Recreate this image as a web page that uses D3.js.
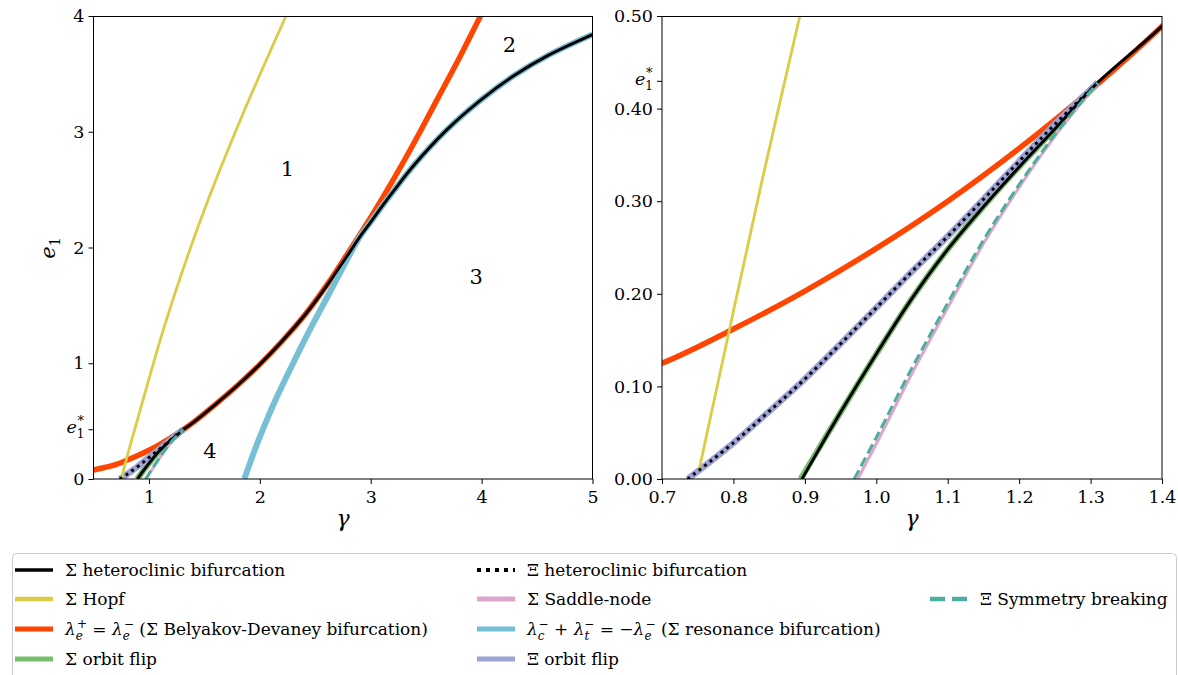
<!DOCTYPE html>
<html>
<head>
<meta charset="utf-8">
<script src="https://cdn.jsdelivr.net/npm/d3@7"></script>
<style>
  body { margin: 0; background: #fff; }
  svg { display: block; }
  text { font-family: "DejaVu Serif", serif; fill: #000; }
</style>
</head>
<body>
<div id="chart-area"></div>
<script>
// values: [gamma, e1]
var e1Star = 0.43;

var hopf = [[0.752,0.01],[0.84,0.322],[0.893,0.5],[0.99,0.83],[1.13,1.29],[1.28,1.735],[1.533,2.41],
            [1.85,3.16],[2.236,4.0]];

var belyakov = [[0.5,0.078],[0.6,0.099],[0.7,0.125],[0.8,0.162],[0.9,0.203],[1.0,0.249],[1.1,0.3],
                [1.2,0.357],[1.3,0.42],[1.4,0.489],[1.6,0.645],[1.8,0.81],
                [2.0,0.99],[2.2,1.19],[2.4,1.41],[2.6,1.67],[2.8,1.96],[3.0,2.26],[3.2,2.58],
                [3.4,2.92],[3.6,3.28],[3.8,3.64],[4.0,4.02]];

var sigmaHet = [[0.896,0],[0.95,0.072],[1.0,0.135],[1.05,0.195],[1.1,0.248],[1.15,0.294],[1.2,0.337],
                [1.25,0.378],[1.31,0.428],[1.4,0.489],[1.6,0.645],[1.8,0.81],[2.0,0.99],[2.2,1.19],
                [2.4,1.41],[2.6,1.665],[2.8,1.945],[2.9,2.09],[3.0,2.22],[3.09,2.34],[3.2,2.48],
                [3.38,2.7],[3.69,3.02],[4.0,3.28],[4.3,3.49],[4.6,3.66],[5.0,3.84]];

var resonance = [[1.86,0],[1.95,0.24],[2.05,0.48],[2.14,0.68],[2.3,1.0],[2.43,1.25],[2.635,1.62],
                 [2.8,1.92],[2.9,2.09],[3.0,2.22],[3.09,2.34],[3.2,2.48],[3.38,2.7],[3.69,3.02],
                 [4.0,3.28],[4.3,3.49],[4.6,3.66],[5.0,3.84]];

var sigmaFlip = [[0.894,0],[0.95,0.072],[1.0,0.135],[1.05,0.195],[1.1,0.248],[1.15,0.294],[1.2,0.337],
                 [1.25,0.378],[1.31,0.428]];

var xiHet = [[0.736,0],[0.8,0.039],[0.85,0.073],[0.9,0.108],[0.95,0.146],[1.0,0.185],[1.05,0.224],
             [1.1,0.262],[1.15,0.302],[1.2,0.343],[1.25,0.383],[1.31,0.428]];

var saddleNode = [[0.974,0],[1.0,0.038],[1.05,0.114],[1.1,0.185],[1.15,0.254],[1.2,0.315],[1.25,0.37],[1.31,0.428]];

var symBreak = [[0.969,0],[1.0,0.045],[1.05,0.12],[1.1,0.19],[1.15,0.258],[1.2,0.318],[1.25,0.372],[1.31,0.428]];

var xTicksL = [1, 2, 3, 4, 5];
var yTicksL = [0, e1Star, 1, 2, 3, 4];
var xTicksR = [0.7, 0.8, 0.9, 1.0, 1.1, 1.2, 1.3, 1.4];
var yTicksR = [0, 0.1, 0.2, 0.3, 0.4, e1Star, 0.5];

var regionLabels = [["1", 2.25, 2.68], ["2", 4.25, 3.75], ["3", 3.95, 1.75], ["4", 1.55, 0.25]];

var width = 1178, height = 675;
var svg = d3.select("#chart-area").append("svg").attr("width", width).attr("height", height);

var panels = [
    {id: "L", left: 93.5, right: 592.5, xDom: [0.5, 5], yDom: [0, 4], xTicks: xTicksL, yTicks: yTicksL,
     xFmt: d3.format("d"), yFmt: d3.format("d")},
    {id: "R", left: 662, right: 1162, xDom: [0.7, 1.4], yDom: [0, 0.5], xTicks: xTicksR, yTicks: yTicksR,
     xFmt: d3.format(".1f"), yFmt: d3.format(".2f")}
];
var plotTop = 16, plotBottom = 479;

// series in drawing order
var series = [
    {data: belyakov,   color: "#ff4500", w: 5.5},
    {data: resonance,  color: "#76c0d6", w: 6},
    {data: sigmaFlip,  color: "#77c06b", w: 6},
    {data: xiHet,      color: "#9ca2d6", w: 6.5},
    {data: saddleNode, color: "#dea6cc", w: 3},
    {data: hopf,       color: "#dccb45", w: 2.8},
    {data: sigmaHet,   color: "#000000", w: 3},
    {data: xiHet,      color: "#000000", w: 3, dash: "3,4"},
    {data: symBreak,   color: "#4bae9f", w: 3, dash: "10,4.5"}
];

function mathText(sel, parts) {
    var shift = 0;
    parts.forEach(function(p) {
        var s = p.s || 0;
        var ts = sel.append("tspan").text(p.t);
        if (s !== shift) ts.attr("dy", s - shift);
        shift = s;
        if (p.i) ts.attr("font-style", "italic");
        if (p.fs) ts.attr("font-size", p.fs);
        if (p.dx) ts.attr("dx", p.dx);
    });
}

var e1StarParts = [{t: "e", i: true}, {t: "1", s: 5, fs: 12}, {t: "*", s: -8, fs: 13, dx: -7}];

panels.forEach(function(p) {
    var x = d3.scaleLinear().domain(p.xDom).range([p.left, p.right]);
    var y = d3.scaleLinear().domain(p.yDom).range([plotBottom, plotTop]);

    var clipId = "clip" + p.id;
    svg.append("clipPath").attr("id", clipId).append("rect")
        .attr("x", p.left).attr("y", plotTop).attr("width", p.right - p.left).attr("height", plotBottom - plotTop);

    var g = svg.append("g").attr("clip-path", "url(#" + clipId + ")");
    var line = d3.line().x(function(d) { return x(d[0]); }).y(function(d) { return y(d[1]); })
                 .curve(d3.curveCatmullRom.alpha(0.5));

    series.forEach(function(s) {
        g.append("path").attr("d", line(s.data)).attr("fill", "none")
            .attr("stroke", s.color).attr("stroke-width", s.w)
            .attr("stroke-dasharray", s.dash || null);
    });

    var xAxis = d3.axisBottom(x).tickValues(p.xTicks).tickFormat(p.xFmt).tickSize(5).tickPadding(7);
    var yAxis = d3.axisLeft(y).tickValues(p.yTicks).tickFormat(p.yFmt).tickSize(5).tickPadding(4);

    var xg = svg.append("g").attr("transform", "translate(0," + plotBottom + ")").call(xAxis);
    var yg = svg.append("g").attr("transform", "translate(" + p.left + ",0)").call(yAxis);
    [xg, yg].forEach(function(a) {
        a.select(".domain").remove();
        a.selectAll("text").attr("font-family", "DejaVu Serif").attr("font-size", 17.5);
        a.selectAll("line").attr("stroke", "#000");
    });
    yg.selectAll(".tick text").each(function(d) {
        if (d === e1Star) {
            var t = d3.select(this).text("");
            t.attr("dy", "0.2em");
            mathText(t, e1StarParts);
        }
    });

    // frame
    svg.append("rect").attr("x", p.left).attr("y", plotTop + 0.5)
        .attr("width", p.right - p.left).attr("height", plotBottom - plotTop - 0.5)
        .attr("fill", "none").attr("stroke", "#000").attr("stroke-width", 1);

    svg.append("text").attr("x", (p.left + p.right) / 2).attr("y", 526)
        .attr("text-anchor", "middle").attr("font-size", 22).attr("font-style", "italic").text("γ");

    if (p.id === "L") {
        var yl = svg.append("text").attr("transform", "translate(55,248) rotate(-90)")
            .attr("text-anchor", "middle").attr("font-size", 21);
        mathText(yl, [{t: "e", i: true}, {t: "1", s: 5, fs: 14}]);

        svg.selectAll(".region").data(regionLabels).enter().append("text")
            .attr("class", "region")
            .attr("x", function(d) { return x(d[1]); })
            .attr("y", function(d) { return y(d[2]); })
            .attr("dy", "0.36em")
            .attr("text-anchor", "middle").attr("font-size", 21)
            .text(function(d) { return d[0]; });
    }
});

// legend
var legendItems = [
    {col: 0, row: 0, color: "#000", w: 3.5, parts: [{t: "Σ heteroclinic bifurcation"}]},
    {col: 0, row: 1, color: "#dccb45", w: 4.5, parts: [{t: "Σ Hopf"}]},
    {col: 0, row: 2, color: "#ff4500", w: 5, parts: [{t: "λ", i: true}, {t: "e", i: true, s: 5, fs: 12},
        {t: "+", s: -7, fs: 12, dx: -6}, {t: " = "}, {t: "λ", i: true}, {t: "e", i: true, s: 5, fs: 12},
        {t: "−", s: -7, fs: 12, dx: -6}, {t: " (Σ Belyakov-Devaney bifurcation)"}]},
    {col: 0, row: 3, color: "#77c06b", w: 5, parts: [{t: "Σ orbit flip"}]},
    {col: 1, row: 0, color: "#000", w: 4, dash: "4,5", parts: [{t: "Ξ heteroclinic bifurcation"}]},
    {col: 1, row: 1, color: "#dea6cc", w: 5, parts: [{t: "Σ Saddle-node"}]},
    {col: 1, row: 2, color: "#76c0d6", w: 5, parts: [{t: "λ", i: true}, {t: "c", i: true, s: 5, fs: 12},
        {t: "−", s: -7, fs: 12, dx: -6}, {t: " + "}, {t: "λ", i: true}, {t: "t", i: true, s: 5, fs: 12},
        {t: "−", s: -7, fs: 12, dx: -5}, {t: " = −"}, {t: "λ", i: true}, {t: "e", i: true, s: 5, fs: 12},
        {t: "−", s: -7, fs: 12, dx: -6}, {t: " (Σ resonance bifurcation)"}]},
    {col: 1, row: 3, color: "#9ca2d6", w: 5, parts: [{t: "Ξ orbit flip"}]},
    {col: 2, row: 1, color: "#4bae9f", w: 4.5, dash: "15,7", parts: [{t: "Ξ Symmetry breaking"}]}
];
var colX = [15, 477, 930];
var rowY = [570, 599, 629, 659];

svg.append("rect").attr("x", 12.5).attr("y", 553.5).attr("width", 1164).attr("height", 140)
    .attr("rx", 4).attr("fill", "#fff").attr("stroke", "#cccccc").attr("stroke-width", 1);

var items = svg.selectAll(".legend-item").data(legendItems).enter().append("g")
    .attr("class", "legend-item")
    .attr("transform", function(d) { return "translate(" + colX[d.col] + "," + rowY[d.row] + ")"; });

items.append("line").attr("x1", 0).attr("x2", 38).attr("y1", 0).attr("y2", 0)
    .attr("stroke", function(d) { return d.color; })
    .attr("stroke-width", function(d) { return d.w; })
    .attr("stroke-dasharray", function(d) { return d.dash || null; });

items.append("text").attr("x", 50).attr("y", 6).attr("font-size", 17)
    .each(function(d) { mathText(d3.select(this), d.parts); });
</script>
</body>
</html>
